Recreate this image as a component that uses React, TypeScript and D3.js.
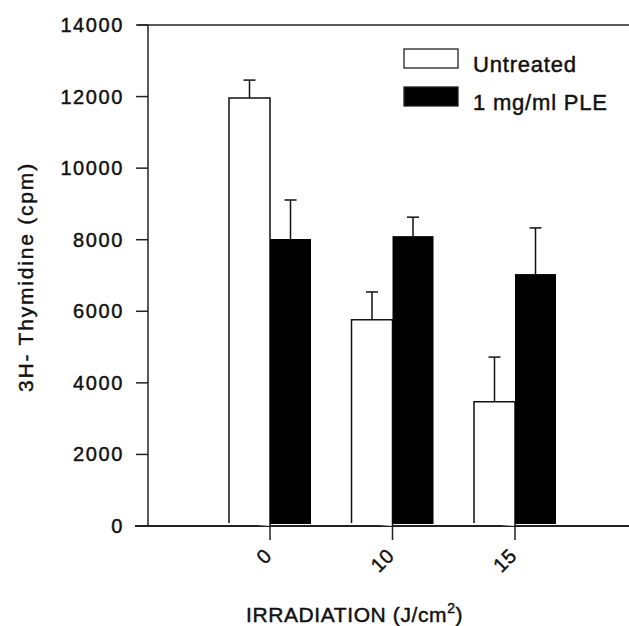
import React, { useRef, useEffect } from 'react';
import * as d3 from 'd3';

// values
const doses = ['0', '10', '15'];
const untreated = [11960, 5760, 3470];
const untreatedErr = [500, 780, 1250];
const ple = [8020, 8100, 7040];
const pleErr = [1090, 530, 1290];
const yTicks = [0, 2000, 4000, 6000, 8000, 10000, 12000, 14000];

const WIDTH = 629;
const HEIGHT = 626;
const FONT = 'Arial, "Liberation Sans", Helvetica, sans-serif';
const INK = '#111';

const App = () => {
  const svgRef = useRef<SVGSVGElement>(null);

  useEffect(() => {
    const svg = d3.select(svgRef.current);
    svg.selectAll('*').remove();

    const left = 148;
    const top = 25;
    const bottom = 526;
    const barW = 41;

    const y = d3.scaleLinear().domain([0, 14000]).range([bottom, top]);
    const x = d3.scalePoint<string>().domain(doses).range([270, 515]);

    const g = svg.append('g');

    // text helper: scanned figure has heavier glyphs, fake it with a thin stroke
    const ink = (sel: any, size: number, spacing = 0) =>
      sel
        .attr('font-family', FONT)
        .attr('font-size', size)
        .attr('letter-spacing', spacing)
        .attr('fill', INK)
        .attr('stroke', INK)
        .attr('stroke-width', 0.45);

    // frame lines (top + baseline extend past axis like the original)
    g.append('line')
      .attr('x1', left - 10).attr('x2', WIDTH)
      .attr('y1', y(14000)).attr('y2', y(14000))
      .attr('stroke', '#222').attr('stroke-width', 1.5);
    g.append('line')
      .attr('x1', left - 13).attr('x2', WIDTH)
      .attr('y1', y(0)).attr('y2', y(0))
      .attr('stroke', '#222').attr('stroke-width', 1.8);

    const rows = doses.map((d, i) => ({
      d,
      u: untreated[i],
      ue: untreatedErr[i],
      p: ple[i],
      pe: pleErr[i],
    }));

    const grp = g.selectAll('.grp').data(rows).enter().append('g');

    // error bars (upward only)
    const errs = [
      { off: -barW / 2, v: (r: any) => r.u, e: (r: any) => r.ue },
      { off: barW / 2, v: (r: any) => r.p, e: (r: any) => r.pe },
    ];
    errs.forEach(({ off, v, e }) => {
      grp.append('line')
        .attr('x1', (r) => x(r.d)! + off).attr('x2', (r) => x(r.d)! + off)
        .attr('y1', (r) => y(v(r))).attr('y2', (r) => y(v(r) + e(r)))
        .attr('stroke', INK).attr('stroke-width', 1.5);
      grp.append('line')
        .attr('x1', (r) => x(r.d)! + off - 6).attr('x2', (r) => x(r.d)! + off + 6)
        .attr('y1', (r) => y(v(r) + e(r))).attr('y2', (r) => y(v(r) + e(r)))
        .attr('stroke', INK).attr('stroke-width', 1.5);
    });

    // untreated: open bar
    grp.append('path')
      .attr('d', (r) => {
        const x0 = x(r.d)! - barW;
        const x1 = x(r.d)!;
        return `M${x0},${y(0) - 3}V${y(r.u)}H${x1}V${y(0)}`;
      })
      .attr('fill', '#fff')
      .attr('stroke', INK)
      .attr('stroke-width', 1.5);

    // PLE: solid bar
    grp.append('rect')
      .attr('x', (r) => x(r.d)!)
      .attr('width', barW)
      .attr('y', (r) => y(r.p))
      .attr('height', (r) => y(0) - y(r.p) - 2)
      .attr('fill', '#000');

    // y axis
    g.append('line')
      .attr('x1', left).attr('x2', left)
      .attr('y1', top).attr('y2', bottom)
      .attr('stroke', '#222').attr('stroke-width', 1.5);
    g.selectAll('.ytick').data(yTicks).enter().append('line')
      .attr('x1', left - 12).attr('x2', left)
      .attr('y1', (d) => y(d)).attr('y2', (d) => y(d))
      .attr('stroke', '#222').attr('stroke-width', 1.5);
    ink(
      g.selectAll('.ylab').data(yTicks).enter().append('text')
        .attr('x', 124)
        .attr('y', (d) => y(d) + 7)
        .attr('text-anchor', 'end'),
      20, 1.6
    ).text((d) => d);

    // x ticks
    g.selectAll('.xtick').data(doses).enter().append('line')
      .attr('x1', (d) => x(d)!).attr('x2', (d) => x(d)!)
      .attr('y1', bottom).attr('y2', bottom + 14)
      .attr('stroke', '#222').attr('stroke-width', 1.5);
    ink(
      g.selectAll('.xlab').data(doses).enter().append('text')
        .attr('transform', (d) => `translate(${x(d)! + 3},${bottom + 31}) rotate(-45)`)
        .attr('text-anchor', 'end'),
      20, 0.5
    ).text((d) => d);

    // axis titles
    const xt = ink(g.append('text').attr('x', 246).attr('y', 622), 21, 0.6);
    xt.append('tspan').text('IRRADIATION (J/cm');
    xt.append('tspan').attr('font-size', 14).attr('dy', -9).text('2');
    xt.append('tspan').attr('dy', 9).text(')');

    ink(
      g.append('text')
        .attr('transform', 'translate(33,277) rotate(-90)')
        .attr('text-anchor', 'middle'),
      21, 1.8
    ).text('3H- Thymidine (cpm)');

    // legend
    const legend = [
      { label: 'Untreated', fill: '#fff' },
      { label: '1 mg/ml PLE', fill: '#000' },
    ];
    const lg = g.selectAll('.leg').data(legend).enter().append('g')
      .attr('transform', (_, i) => `translate(404,${49 + i * 38})`);
    lg.append('rect')
      .attr('width', 54).attr('height', 19)
      .attr('fill', (d) => d.fill)
      .attr('stroke', '#222').attr('stroke-width', 1.3);
    ink(lg.append('text').attr('x', 69).attr('y', 23), 22, 0.8)
      .text((d) => d.label);
  }, []);

  return (
    <svg
      ref={svgRef}
      width={WIDTH}
      height={HEIGHT}
      style={{ position: 'absolute', left: 0, top: 0, background: '#fff' }}
    />
  );
};

export default App;
